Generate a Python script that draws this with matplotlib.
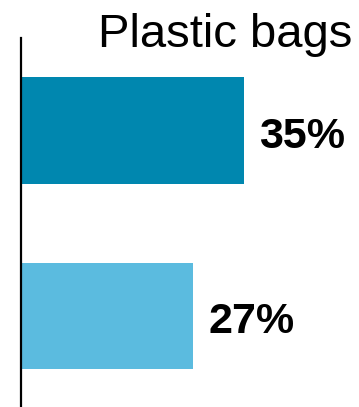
import matplotlib.pyplot as plt

plt.rcParams['font.family'] = ['Liberation Sans', 'DejaVu Sans']

# share of respondents per item
title = "Plastic bags"
values = [35, 27]
colors = ["#0087AF", "#5BBBDF"]

W, H = 359, 407
fig = plt.figure(figsize=(W / 100, H / 100), dpi=100)
ax = fig.add_axes([21 / W, 0, 1 - 21 / W, 1 - 38 / H])

pos = range(len(values))
ax.barh(pos, values, height=0.575, color=colors)
# value labels sit on a baseline a little below each bar's centre
for p, v in zip(pos, values):
    ax.text(v + 2.4, p + 0.092, f"{v}%", va="baseline", ha="left",
            fontsize=31, fontweight="bold")

ax.set_xlim(0, 53)
ax.set_ylim(1.49, -0.5)
for side in ["top", "right", "bottom"]:
    ax.spines[side].set_visible(False)
ax.spines["left"].set_linewidth(1.6)
ax.set_xticks([])
ax.set_yticks([])

fig.text(352 / W, 1 - 46.7 / H, title, ha="right", va="baseline", fontsize=34)

fig.savefig("out.png", dpi=100)
